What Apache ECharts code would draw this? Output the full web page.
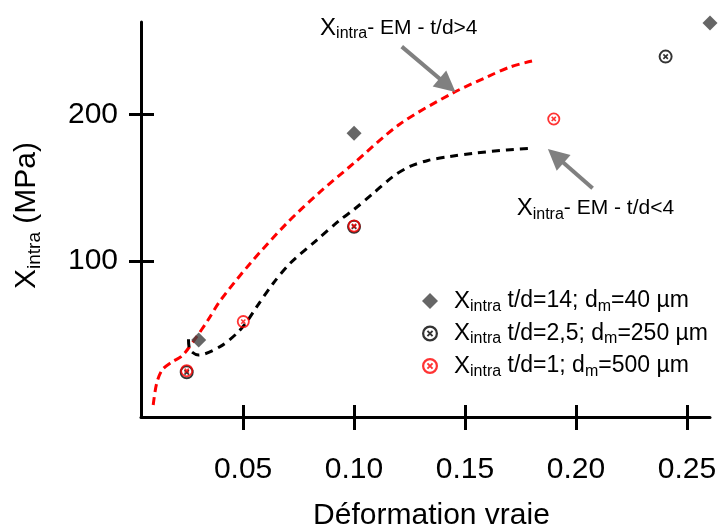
<!DOCTYPE html>
<html>
<head>
<meta charset="utf-8">
<script src="https://cdn.jsdelivr.net/npm/echarts@6/dist/echarts.min.js"></script>
<style>html,body{margin:0;padding:0;background:#fff}#c{width:722px;height:527px}</style>
</head>
<body>
<div id="c"></div>
<script>
// ---- data ----
const xTicks = [0.05, 0.10, 0.15, 0.20, 0.25];
const yTicks = [100, 200];

const diamondX = [0.030, 0.100, 0.2604];
const diamondY = [46.1, 187.2, 262.5];

const blackX = [0.0246, 0.100, 0.2404];
const blackY = [24.0, 123.4, 239.5];

const redX = [0.0246, 0.0501, 0.100, 0.190];
const redY = [25.1, 58.6, 123.9, 196.9];

const emRedX = [0.0095, 0.0110, 0.0135, 0.0180, 0.0225, 0.0284, 0.0342, 0.0396, 0.0532, 0.0698, 0.0847, 0.0995, 0.1207, 0.1446, 0.1599, 0.1703, 0.1802];
const emRedY = [1.7, 16.0, 25.6, 31.1, 35.2, 46.8, 59.7, 72.7, 98.3, 125.9, 147.1, 166.2, 193.5, 214.7, 225.6, 232.4, 236.5];

const emBlackX = [0.0254, 0.0261, 0.0299, 0.0396, 0.0472, 0.0517, 0.0562, 0.0636, 0.0712, 0.0832, 0.0937, 0.0997, 0.1087, 0.1176, 0.1252, 0.1333, 0.1432, 0.1537, 0.1688, 0.1800];
const emBlackY = [46.6, 39.2, 35.8, 41.5, 50.6, 58.6, 68.8, 84.8, 98.4, 114.3, 128.0, 134.8, 146.2, 157.7, 164.5, 168.6, 171.3, 173.5, 175.8, 176.9];

const legendNames = ['Xintra t/d=14; dm=40 µm', 'Xintra t/d=2,5; dm=250 µm', 'Xintra t/d=1; dm=500 µm'];
const legendRich = [
  '{sp|}{x|X}{s|intra}{t| t/d=14; d}{s|m}{t|=40 µm}',
  '{sp|}{x|X}{s|intra}{t| t/d=2,5; d}{s|m}{t|=250 µm}',
  '{sp|}{x|X}{s|intra}{t| t/d=1; d}{s|m}{t|=500 µm}'
];

// annotations (data coordinates)
const ann1 = [0.0847, 259.0];
const ann2 = [0.1733, 136.0];
const arrow1 = [[0.1215, 246.3], [0.1421, 219.9]];
const arrow2 = [[0.2075, 149.6], [0.1909, 171.7]];

// ---- chart ----
const FONT = "'Liberation Sans', Arial, sans-serif";
const otimes = 'path://M50,0A50,50,0,1,1,50,100A50,50,0,1,1,50,0ZM50,14A36,36,0,1,0,50,86A36,36,0,1,0,50,14ZM38.24,29.76L70.24,61.76L61.76,70.24L29.76,38.24ZM70.24,38.24L38.24,70.24L29.76,61.76L61.76,29.76Z';
const zip = (a, b) => a.map((v, i) => [v, b[i]]);

const XMIN = 0.004, XMAX = 0.2604, YMIN = -6.5, YMAX = 263.1;

const chart = echarts.init(document.getElementById('c'), null, {renderer: 'canvas'});

const annRich = {
  x: {fontSize: 24, fontFamily: FONT, color: '#000', lineHeight: 28},
  s: {fontSize: 16, fontFamily: FONT, color: '#000', lineHeight: 8, verticalAlign: 'bottom'},
  t: {fontSize: 21, fontFamily: FONT, color: '#000', lineHeight: 28}
};

chart.setOption({
  animation: false,
  grid: {left: 141, right: 12, top: 22, bottom: 110, containLabel: false, outerBoundsMode: 'none'},
  xAxis: [{
    type: 'value', min: XMIN, max: XMAX, position: 'bottom',
    axisLine: {show: true, onZero: false, lineStyle: {color: '#000', width: 3}},
    axisTick: {show: true, inside: false, length: 13, customValues: xTicks, lineStyle: {color: '#000', width: 3}},
    axisLabel: {show: true, customValues: xTicks, formatter: v => v.toFixed(2), fontSize: 30, fontFamily: FONT, color: '#000', margin: 38},
    splitLine: {show: false},
    name: 'Déformation vraie', nameLocation: 'middle', nameGap: 84,
    nameTextStyle: {fontSize: 30, fontFamily: FONT, color: '#000', padding: [0, 0, 0, 12]}
  }, {
    type: 'value', min: XMIN, max: XMAX, position: 'bottom',
    axisLine: {show: false, onZero: false},
    axisTick: {show: true, inside: true, length: 12, customValues: xTicks, lineStyle: {color: '#000', width: 3}},
    axisLabel: {show: false}, splitLine: {show: false}
  }],
  yAxis: [{
    type: 'value', min: YMIN, max: YMAX, position: 'left',
    axisLine: {show: true, onZero: false, lineStyle: {color: '#000', width: 3}},
    axisTick: {show: true, inside: false, length: 12, customValues: yTicks, lineStyle: {color: '#000', width: 3}},
    axisLabel: {show: true, customValues: yTicks, fontSize: 30, fontFamily: FONT, color: '#000', margin: 23},
    splitLine: {show: false},
    name: '{x|X}{s|intra}{t| (MPa)}', nameLocation: 'middle', nameGap: 97, nameRotate: 90,
    nameTextStyle: {
      padding: [0, 0, 0, 8],
      rich: {
        x: {fontSize: 30, fontFamily: FONT, color: '#000', lineHeight: 34},
        s: {fontSize: 19, fontFamily: FONT, color: '#000', lineHeight: 10, verticalAlign: 'bottom'},
        t: {fontSize: 30, fontFamily: FONT, color: '#000', lineHeight: 34}
      }
    }
  }, {
    type: 'value', min: YMIN, max: YMAX, position: 'left',
    axisLine: {show: false, onZero: false},
    axisTick: {show: true, inside: true, length: 13, customValues: yTicks, lineStyle: {color: '#000', width: 3}},
    axisLabel: {show: false}, splitLine: {show: false}
  }],
  legend: {
    data: legendNames, orient: 'vertical', left: 417, top: 284,
    itemWidth: 16, itemHeight: 16, itemGap: 7,
    formatter: name => legendRich[legendNames.indexOf(name)],
    textStyle: {
      rich: {
        sp: {width: 11},
        x: {fontSize: 24, fontFamily: FONT, color: '#000', lineHeight: 27},
        s: {fontSize: 16, fontFamily: FONT, color: '#000', lineHeight: 8, verticalAlign: 'bottom'},
        t: {fontSize: 23, fontFamily: FONT, color: '#000', lineHeight: 27}
      }
    }
  },
  series: [
    {
      name: 'EM red', type: 'line', data: zip(emRedX, emRedY), showSymbol: false, symbol: 'none',
      smooth: 0.3, lineStyle: {color: '#ff0000', width: 3, type: [8, 5]}, z: 1, silent: true,
      markLine: {
        silent: true, symbol: ['none', 'triangle'], symbolSize: 21,
        label: {show: false},
        lineStyle: {color: '#808080', width: 4, type: 'solid'},
        itemStyle: {color: '#808080'},
        data: [
          [{coord: arrow1[0]}, {coord: arrow1[1]}],
          [{coord: arrow2[0]}, {coord: arrow2[1]}]
        ]
      },
      markPoint: {
        symbol: 'circle', symbolSize: 0, silent: true,
        label: {show: true, position: [0, 0], align: 'left', verticalAlign: 'middle', rich: annRich,
          formatter: p => p.name === 'a1' ? '{x|X}{s|intra}{t|- EM - t/d>4}' : '{x|X}{s|intra}{t|- EM - t/d<4}'},
        data: [{name: 'a1', coord: ann1}, {name: 'a2', coord: ann2}]
      }
    },
    {
      name: 'EM black', type: 'line', data: zip(emBlackX, emBlackY), showSymbol: false, symbol: 'none',
      smooth: 0.3, lineStyle: {color: '#000', width: 3, type: [8, 6]}, z: 1, silent: true
    },
    {
      name: legendNames[0], type: 'scatter', data: zip(diamondX, diamondY), symbol: 'diamond',
      symbolSize: 15, symbolKeepAspect: true, itemStyle: {color: '#404040'}, z: 3, clip: false
    },
    {
      name: legendNames[1], type: 'scatter', data: zip(blackX, blackY), symbol: otimes,
      symbolSize: 14, symbolKeepAspect: true, itemStyle: {color: '#000'}, z: 4, clip: false
    },
    {
      name: legendNames[2], type: 'scatter', data: zip(redX, redY), symbol: otimes,
      symbolSize: 13, symbolKeepAspect: true, itemStyle: {color: '#ff0000'}, z: 5, clip: false
    }
  ]
});
</script>
</body>
</html>
